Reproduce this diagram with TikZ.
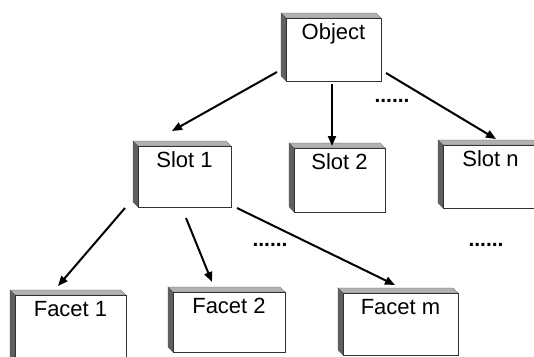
\documentclass[tikz,border=0pt]{standalone}
\usepackage{fontspec}
\setmainfont{Liberation Sans}
\usetikzlibrary{arrows.meta}
\tikzset{
  topface/.style={fill=gray!60, draw=gray!70!black, line width=0.3pt},
  leftface/.style={fill=gray!75!black, draw=gray!60!black, line width=0.3pt},
  frontface/.style={fill=white, draw=black!80, line width=0.6pt},
  boxlabel/.style={anchor=base, inner sep=0pt, font=\fontsize{22}{26}\selectfont},
  dotlabel/.style={anchor=base, inner sep=0pt, font=\bfseries\fontsize{21}{24}\selectfont},
  link/.style={line width=2pt, -{Triangle[length=10pt,width=8pt]}}
}
\newcommand{\boxthreed}[6]{%
  \filldraw[topface] (#2,#3) -- (#2-5,#3-5) -- (#4-5,#3-5) -- (#4,#3) -- cycle;
  \filldraw[leftface] (#2,#3) -- (#2-5,#3-5) -- (#2-5,#5-5) -- (#2,#5) -- cycle;
  \filldraw[frontface] (#2,#3) rectangle (#4,#5);
  \node[boxlabel] (#1) at ({(#2+#4)/2},#3+21) {#6};
}
\begin{document}
\begin{tikzpicture}[x=1pt,y=-1pt]
\useasboundingbox (0,0) rectangle (534,356);
\clip (0,0) rectangle (534,356);
\boxthreed{obj}{286}{18}{381}{81}{Object}
\boxthreed{s1}{138}{146}{231}{207}{Slot 1}
\boxthreed{s2}{294}{148}{385}{212}{Slot 2}
\boxthreed{sn}{443}{145}{538}{208}{Slot n}
\boxthreed{f1}{15}{295}{126}{370}{Facet 1}
\boxthreed{f2}{173}{292}{285}{352}{Facet 2}
\boxthreed{fm}{343}{293}{458}{355}{Facet m}
\node[dotlabel] (d0) at (392,102) {......};
\node[dotlabel] (d1) at (270,246) {......};
\node[dotlabel] (d2) at (486,246) {......};
% connector end points
\coordinate (obj-a) at (277,72);  \coordinate (s1-in) at (172,131);
\coordinate (obj-b) at (332,84);  \coordinate (s2-in) at (332,146);
\coordinate (obj-c) at (386,73);  \coordinate (sn-in) at (496,139);
\coordinate (s1-a) at (125,208);  \coordinate (f1-in) at (58,286);
\coordinate (s1-b) at (186,218);  \coordinate (f2-in) at (212,282);
\coordinate (s1-c) at (237,208);  \coordinate (fm-in) at (395,285);
\draw[link] (obj-a) -- (s1-in);
\draw[link] (obj-b) -- (s2-in);
\draw[link] (obj-c) -- (sn-in);
\draw[link] (s1-a) -- (f1-in);
\draw[link] (s1-b) -- (f2-in);
\draw[link] (s1-c) -- (fm-in);
\end{tikzpicture}
\end{document}
